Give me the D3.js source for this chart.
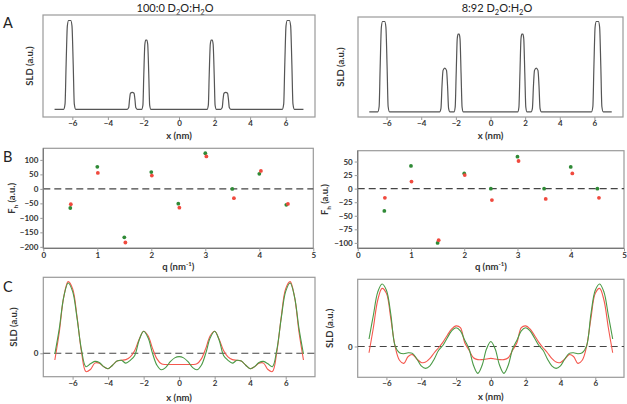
<!DOCTYPE html>
<html><head><meta charset="utf-8">
<script src="https://cdn.jsdelivr.net/npm/d3@7"></script>
<style>
html,body{margin:0;padding:0;background:#fff;}
svg{display:block;}
text{font-family:Lato,"Open Sans",sans-serif;}
</style></head>
<body>
<script>
// ---------------- DATA ----------------
const titles = ["100:0", "8:92"];
// Panel A: SLD profiles (a.u.)
const aLeftX = [-7,-6.49,-6.41,-6.35,-6.28,-6.21,-6.09,-6.02,-5.95,-5.89,-5.81,
  -2.91,-2.83,-2.78,-2.73,-2.63,-2.53,-2.48,-2.43,-2.35,
  -2.10,-2.03,-1.98,-1.92,-1.87,-1.81,-1.76,-1.70,-1.65,-1.58,
  1.58,1.65,1.70,1.76,1.81,1.87,1.92,1.98,2.03,2.10,
  2.35,2.43,2.48,2.53,2.63,2.73,2.78,2.83,2.91,
  5.81,5.89,5.95,6.02,6.09,6.21,6.28,6.35,6.41,6.49,7];
const aLeftY = [0,0,0.06,0.5,0.94,1,1,0.94,0.5,0.06,0,
  0,0.019,0.114,0.18,0.19,0.18,0.114,0.019,0,
  0,0.047,0.39,0.733,0.78,0.78,0.733,0.39,0.047,0,
  0,0.047,0.39,0.733,0.78,0.78,0.733,0.39,0.047,0,
  0,0.019,0.114,0.18,0.19,0.18,0.114,0.019,0,
  0,0.06,0.5,0.94,1,1,0.94,0.5,0.06,0,0];
const aRightX = [-7,-6.51,-6.43,-6.37,-6.30,-6.23,-6.11,-6.04,-5.97,-5.91,-5.83,
  -2.94,-2.86,-2.80,-2.74,-2.64,-2.54,-2.48,-2.42,-2.34,
  -2.11,-2.04,-1.98,-1.92,-1.87,-1.81,-1.76,-1.70,-1.64,-1.57,
  1.57,1.64,1.70,1.76,1.81,1.87,1.92,1.98,2.04,2.11,
  2.34,2.42,2.48,2.54,2.64,2.74,2.80,2.86,2.94,
  5.83,5.91,5.97,6.04,6.11,6.23,6.30,6.37,6.43,6.51,7];
const aRightY = [0,0,0.06,0.5,0.94,1,1,0.94,0.5,0.06,0,
  0,0.04,0.29,0.46,0.485,0.46,0.29,0.04,0,
  0,0.052,0.43,0.81,0.86,0.86,0.81,0.43,0.052,0,
  0,0.052,0.43,0.81,0.86,0.86,0.81,0.43,0.052,0,
  0,0.04,0.29,0.46,0.485,0.46,0.29,0.04,0,
  0,0.06,0.5,0.94,1,1,0.94,0.5,0.06,0,0];

// Panel B: structure factors F_h vs q (nm^-1)
const qGreen = [0.5,1.0,1.5,2.0,2.5,3.0,3.5,4.0,4.5];
const qRed   = [0.51,1.01,1.52,2.01,2.52,3.02,3.53,4.03,4.53];
const fLeftGreen  = [-66,76,-167,58,-51,123,0,52,-55];
const fLeftRed    = [-53,55,-185,46,-65,112,-32,62,-52];
const fRightGreen = [-41,42,-100,28,0,59,0,40,0];
const fRightRed   = [-17,13,-95,25,-21,51,-19,28,-17];
const bLeftTicks  = [100,50,0,-50,-100,-150,-200];
const bRightTicks = [50,25,0,-25,-50,-75,-100];
const qTicks = [0,1,2,3,4,5];

// Panel C: reconstructed SLD profiles
const cX = [-7,-6.75,-6.5,-6.25,-6,-5.75,-5.5,-5.25,-5,-4.75,-4.5,-4.25,-4,-3.75,-3.5,-3.25,-3,-2.75,-2.5,-2.25,-2,-1.75,-1.5,-1.25,-1,-0.75,-0.5,-0.25,
  0,0.25,0.5,0.75,1,1.25,1.5,1.75,2,2.25,2.5,2.75,3,3.25,3.5,3.75,4,4.25,4.5,4.75,5,5.25,5.5,5.75,6,6.25,6.5,6.75,7];
const cLeftGreen = [-0.01,0.35,0.8,1.0,0.88,0.5,0.05,-0.19,-0.15,-0.115,-0.13,-0.19,-0.22,-0.17,-0.11,-0.1,-0.14,-0.1,-0.03,0.19,0.313,0.22,0.0,-0.17,-0.235,-0.2,-0.12,-0.065,
  -0.047,-0.065,-0.12,-0.2,-0.235,-0.17,0.0,0.22,0.313,0.19,-0.03,-0.1,-0.14,-0.1,-0.11,-0.17,-0.22,-0.19,-0.13,-0.115,-0.15,-0.19,0.05,0.5,0.88,1.0,0.8,0.35,-0.01];
const cLeftRed = [-0.095,0.3,0.8,1.02,0.92,0.52,0.02,-0.26,-0.23,-0.14,-0.14,-0.19,-0.22,-0.17,-0.11,-0.1,-0.09,-0.05,0.04,0.2,0.313,0.25,0.07,-0.08,-0.15,-0.16,-0.16,-0.16,
  -0.16,-0.16,-0.16,-0.16,-0.15,-0.08,0.07,0.25,0.313,0.2,0.04,-0.05,-0.09,-0.1,-0.11,-0.17,-0.22,-0.19,-0.14,-0.14,-0.23,-0.26,0.02,0.52,0.92,1.02,0.8,0.3,-0.095];
const cRightGreen = [0.12,0.5,0.87,1.0,0.9,0.52,0.01,-0.1,-0.115,-0.1,-0.11,-0.2,-0.31,-0.35,-0.31,-0.2,-0.06,0.02,0.14,0.25,0.3,0.25,0.1,-0.04,-0.3,-0.43,-0.3,-0.04,
  0.08,-0.04,-0.3,-0.43,-0.3,-0.04,0.1,0.25,0.3,0.25,0.14,0.02,-0.06,-0.2,-0.31,-0.35,-0.31,-0.2,-0.11,-0.1,-0.115,-0.1,0.01,0.52,0.9,1.0,0.87,0.5,0.12];
const cRightRed = [-0.1,0.3,0.74,0.93,0.85,0.45,0.0,-0.22,-0.27,-0.16,-0.13,-0.2,-0.255,-0.25,-0.19,-0.1,-0.02,0.07,0.18,0.28,0.33,0.3,0.06,-0.06,-0.18,-0.21,-0.21,-0.2,
  -0.19,-0.2,-0.21,-0.21,-0.18,-0.06,0.06,0.3,0.33,0.28,0.18,0.07,-0.02,-0.1,-0.19,-0.25,-0.255,-0.2,-0.13,-0.16,-0.27,-0.22,0.0,0.45,0.85,0.93,0.74,0.3,-0.1];
const xTicks = [-6,-4,-2,0,2,4,6];

// ---------------- DRAW ----------------
const W = 627, H = 404;
const svg = d3.select("body").append("svg").attr("width", W).attr("height", H);
const GREEN = "#2f8a36", RED = "#f04a3e";
const LGREEN = "#4a9a46", LRED = "#f4584e";
const FRAME = "#9a9a9a", TXT = "#333";

function frame(x0, x1, y0, y1) {
  svg.append("rect").attr("x", x0).attr("y", y0).attr("width", x1 - x0).attr("height", y1 - y0)
    .attr("fill", "none").attr("stroke", FRAME).attr("stroke-width", 1.2);
}
function xAxis(xs, y, ticks, labelDy) {
  const g = svg.append("g").attr("transform", `translate(0,${y})`)
    .call(d3.axisBottom(xs).tickValues(ticks).tickSize(3).tickPadding(labelDy).tickFormat(d3.format("d")));
  g.select(".domain").remove();
  g.selectAll("line").attr("stroke", FRAME);
  g.selectAll("text").attr("font-size", 8).attr("font-weight", "bold").attr("fill", TXT).attr("font-family", "Lato");
}
function yAxis(ys, x, ticks) {
  const g = svg.append("g").attr("transform", `translate(${x},0)`)
    .call(d3.axisLeft(ys).tickValues(ticks).tickSize(3).tickPadding(2).tickFormat(d3.format("d")));
  g.select(".domain").remove();
  g.selectAll("line").attr("stroke", FRAME);
  g.selectAll("text").attr("font-size", 8).attr("font-weight", "bold").attr("fill", TXT).attr("font-family", "Lato");
}
function ylabel(x, y, sub) {
  const t = svg.append("text").attr("transform", `translate(${x},${y}) rotate(-90)`)
    .attr("text-anchor", "middle").attr("font-size", 9.5).attr("font-weight", "bold").attr("fill", TXT);
  if (sub) {
    t.append("tspan").text("F");
    t.append("tspan").text("h").attr("font-size", 6).attr("dy", 2.5);
    t.append("tspan").text(" (a.u.)").attr("dy", -2.5);
  } else t.text("SLD (a.u.)");
}
function xlabel(x, y, q) {
  const t = svg.append("text").attr("x", x).attr("y", y).attr("text-anchor", "middle")
    .attr("font-size", 9.5).attr("font-weight", "bold").attr("fill", TXT);
  if (q) {
    t.append("tspan").text("q (nm");
    t.append("tspan").text("-1").attr("font-size", 6).attr("dy", -3.5);
    t.append("tspan").text(")").attr("dy", 3.5);
  } else t.text("x (nm)");
}
function title(x, y, ratio) {
  const t = svg.append("text").attr("x", x).attr("y", y).attr("text-anchor", "middle")
    .attr("font-size", 11).attr("fill", "#222").attr("font-family", "Open Sans");
  t.append("tspan").text(ratio + " D");
  t.append("tspan").text("2").attr("font-size", 7.5).attr("dy", 2.5);
  t.append("tspan").text("O:H").attr("dy", -2.5);
  t.append("tspan").text("2").attr("font-size", 7.5).attr("dy", 2.5);
  t.append("tspan").text("O").attr("dy", -2.5);
}
function letter(ch, y) {
  svg.append("text").attr("x", 3).attr("y", y).text(ch).attr("font-size", 14.5)
    .attr("fill", "#222").attr("font-family", "Open Sans");
}
function dashed(xs, ys, x0, x1, v) {
  svg.append("line").attr("x1", x0).attr("x2", x1).attr("y1", ys(v)).attr("y2", ys(v))
    .attr("stroke", "#444").attr("stroke-width", 1.1).attr("stroke-dasharray", "7,4");
}

// Titles & letters
title(175, 12, titles[0]);
title(497, 12, titles[1]);
letter("A", 28); letter("B", 162); letter("C", 292);

// ---- Panel A ----
function panelA(X, Y, x0, x1, y0, y1, yDom, labX) {
  const xs = d3.scaleLinear().domain([-7.65, 7.65]).range([x0, x1]);
  const ys = d3.scaleLinear().domain(yDom).range([y1, y0]);
  frame(x0, x1, y0, y1);
  const line = d3.line().x((d, i) => xs(X[i])).y((d, i) => ys(Y[i])).curve(d3.curveMonotoneX);
  svg.append("path").datum(Y).attr("d", line).attr("fill", "none").attr("stroke", "#555").attr("stroke-width", 1.2);
  xAxis(xs, y1, xTicks, 0);
  xlabel((x0 + x1) / 2, y1 + 21.5);
  ylabel(labX, (y0 + y1) / 2);
}
panelA(aLeftX, aLeftY, 43, 315, 15, 117, [-0.087, 1.062], 33);
panelA(aRightX, aRightY, 358, 623, 17, 117, [-0.056, 1.05], 344);

// ---- Panel B ----
function panelB(fG, fR, x0, x1, y0, y1, yDom, ticks, labX) {
  const xs = d3.scaleLinear().domain([0, 5]).range([x0, x1]);
  const ys = d3.scaleLinear().domain(yDom).range([y1, y0]);
  frame(x0, x1, y0, y1);
  dashed(xs, ys, x0, x1, 0);
  svg.append("g").selectAll("circle").data(fG).join("circle")
    .attr("cx", (d, i) => xs(qGreen[i])).attr("cy", d => ys(d)).attr("r", 1.9).attr("fill", GREEN);
  svg.append("g").selectAll("circle").data(fR).join("circle")
    .attr("cx", (d, i) => xs(qRed[i])).attr("cy", d => ys(d)).attr("r", 1.9).attr("fill", RED);
  // darker axis lines on left/bottom
  svg.append("line").attr("x1", x0).attr("x2", x0).attr("y1", y0).attr("y2", y1).attr("stroke", "#777").attr("stroke-width", 1.2);
  svg.append("line").attr("x1", x0).attr("x2", x1).attr("y1", y1).attr("y2", y1).attr("stroke", "#777").attr("stroke-width", 1.2);
  xAxis(xs, y1, qTicks, 1.5);
  yAxis(ys, x0, ticks);
  xlabel((x0 + x1) / 2, y1 + 21.5, true);
  ylabel(labX, (y0 + y1) / 2, true);
}
panelB(fLeftGreen, fLeftRed, 43.3, 313.3, 148.3, 248.3, [-205, 140], bLeftTicks, 15);
panelB(fRightGreen, fRightRed, 357.7, 624, 150.7, 248.3, [-110, 70], bRightTicks, 328);

// ---- Panel C ----
function panelC(G, R, x0, x1, y0, y1, yDom, labX, lblDy, titleDy) {
  const xs = d3.scaleLinear().domain([-7.65, 7.65]).range([x0, x1]);
  const ys = d3.scaleLinear().domain(yDom).range([y1, y0]);
  frame(x0, x1, y0, y1);
  dashed(xs, ys, x0, x1, 0);
  const line = d3.line().x((d, i) => xs(cX[i])).y(d => ys(d)).curve(d3.curveCatmullRom.alpha(0.5));
  svg.append("path").datum(R).attr("d", line).attr("fill", "none").attr("stroke", LRED).attr("stroke-width", 1.1);
  svg.append("path").datum(G).attr("d", line).attr("fill", "none").attr("stroke", LGREEN).attr("stroke-width", 1.1);
  xAxis(xs, y1, xTicks, lblDy);
  yAxis(ys, x0, [0]);
  xlabel((x0 + x1) / 2, y1 + titleDy);
  ylabel(labX, (y0 + y1) / 2);
}
panelC(cLeftGreen, cLeftRed, 43.3, 315, 277.3, 376.7, [-0.333, 1.081], 17, 1, 24);
panelC(cRightGreen, cRightRed, 357.7, 624, 279.3, 377.3, [-0.493, 1.075], 333, 0, 22.5);
</script>
</body></html>
